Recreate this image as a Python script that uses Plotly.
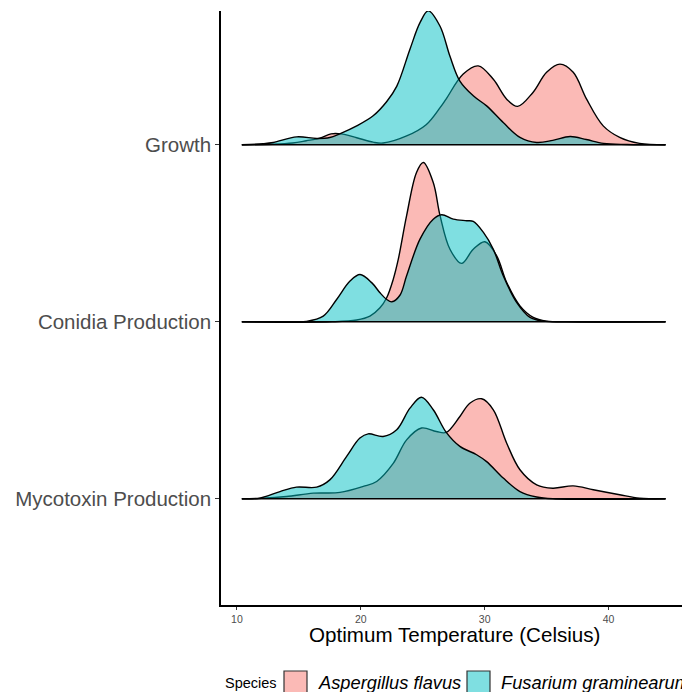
import plotly.graph_objects as go

# ---------------- data ----------------
categories = ["Mycotoxin Production", "Conidia Production", "Growth"]
category_levels = [1, 2, 3]
species = ["Aspergillus flavus", "Fusarium graminearum"]
x_ticks = [10, 20, 30, 40]

# Growth ridge
growth_af_t = [10.4, 12.9, 14.5, 15.6, 16.7, 17.6, 18.4, 19.67, 21.0, 21.8, 23.7, 25.3, 26.4, 26.9,
               28.27, 29.48, 30.7, 31.78, 32.66, 33.9, 35.0, 36.08, 37.15, 38.23, 39.57, 40.9, 42.5, 44.6]
growth_af_h = [0, 0.003, 0.01, 0.023, 0.038, 0.062, 0.062, 0.04, 0.015, 0.01, 0.05, 0.115, 0.21, 0.26,
               0.40, 0.446, 0.37, 0.258, 0.217, 0.296, 0.41, 0.456, 0.41, 0.258, 0.107, 0.042, 0.008, 0]
growth_fg_t = [10.4, 12.1, 12.94, 14.83, 16.44, 17.5, 18.3, 19.67, 21.0, 22.1, 22.9, 23.97, 24.78, 25.45,
               26.4, 27.2, 28.0, 29.08, 30.16, 31.5, 32.85, 34.2, 35.5, 36.9, 38.2, 39.6, 41.5, 44.6]
growth_fg_h = [0, 0.006, 0.013, 0.045, 0.036, 0.041, 0.062, 0.107, 0.164, 0.245, 0.33, 0.54, 0.69, 0.757,
               0.67, 0.50, 0.36, 0.277, 0.22, 0.126, 0.042, 0.013, 0.025, 0.047, 0.03, 0.008, 0.002, 0]

# Conidia production ridge
conidia_af_t = [10.4, 17.7, 19.67, 20.74, 21.55, 22.09, 22.62, 23.03, 23.7, 24.5, 25.05, 25.85, 26.4,
                27.2, 28.14, 29.08, 30.02, 30.97, 31.78, 32.85, 33.92, 35.0, 37.0, 44.6]
conidia_af_h = [0, 0, 0.01, 0.032, 0.079, 0.136, 0.24, 0.354, 0.60, 0.844, 0.90, 0.787, 0.60,
                0.41, 0.33, 0.41, 0.452, 0.373, 0.222, 0.09, 0.025, 0.004, 0, 0]
conidia_fg_t = [10.4, 14.5, 15.6, 16.97, 18.05, 19.13, 19.94, 20.9, 21.55, 22.1, 22.5, 23.16, 23.7,
                24.78, 25.85, 26.53, 27.47, 28.55, 29.08, 29.9, 30.7, 31.5, 32.58, 33.66, 34.73, 36.5, 44.6]
conidia_fg_h = [0, 0, 0.002, 0.032, 0.126, 0.23, 0.267, 0.22, 0.164, 0.126, 0.113, 0.15, 0.26,
                0.467, 0.58, 0.605, 0.58, 0.571, 0.567, 0.505, 0.41, 0.26, 0.11, 0.025, 0.004, 0, 0]

# Mycotoxin production ridge
myco_af_t = [10.4, 12.0, 14.0, 16.17, 18.32, 20.2, 21.28, 22.62, 23.7, 24.9, 26.1, 26.9, 28.0, 28.8,
             29.76, 30.7, 31.78, 32.85, 34.2, 35.5, 37.15, 38.77, 40.9, 42.5, 44.6]
myco_af_h = [0, 0.003, 0.013, 0.032, 0.036, 0.07, 0.098, 0.2, 0.333, 0.40, 0.38, 0.375, 0.465, 0.54,
             0.565, 0.503, 0.314, 0.164, 0.079, 0.06, 0.073, 0.051, 0.023, 0.004, 0]
myco_fg_t = [10.4, 11.86, 13.48, 14.8, 16.44, 17.5, 18.86, 19.93, 20.6, 21.8, 22.9, 23.97, 24.9,
             25.85, 26.9, 28.0, 29.35, 30.16, 31.5, 32.85, 34.2, 35.5, 44.6]
myco_fg_h = [0, 0.004, 0.041, 0.066, 0.066, 0.107, 0.24, 0.343, 0.367, 0.352, 0.39, 0.512, 0.574,
             0.503, 0.375, 0.296, 0.249, 0.21, 0.117, 0.041, 0.01, 0.0, 0]

x_min, x_max = 10.4, 44.6

# ---------------- styling ----------------
FONT = "Liberation Sans, Arial, sans-serif"
FILL_AF = "rgba(248,118,109,0.5)"
FILL_FG = "rgba(0,191,196,0.5)"
W, H = 682, 692
ML, MR, MT, MB = 221, 0, 11, 87
PW, PH = W - ML - MR, H - MT - MB


def px_x(px):
    return (px - ML) / PW


def px_y(py):
    return (H - MB - py) / PH


ridges = [
    (3, growth_af_t, growth_af_h, growth_fg_t, growth_fg_h),
    (2, conidia_af_t, conidia_af_h, conidia_fg_t, conidia_fg_h),
    (1, myco_af_t, myco_af_h, myco_fg_t, myco_fg_h),
]

fig = go.Figure()
for level, af_t, af_h, fg_t, fg_h in ridges:
    for t, h, fill in ((af_t, af_h, FILL_AF), (fg_t, fg_h, FILL_FG)):
        fig.add_trace(go.Scatter(
            x=t, y=[level + v for v in h], mode="lines",
            line=dict(color="black", width=1.4, shape="spline", smoothing=1.0),
            fill="toself", fillcolor=fill, showlegend=False, hoverinfo="skip"))
    fig.add_trace(go.Scatter(
        x=[x_min, x_max], y=[level, level], mode="lines",
        line=dict(color="black", width=1.4), showlegend=False, hoverinfo="skip"))

fig.update_layout(
    width=W, height=H,
    margin=dict(l=ML, r=MR, t=MT, b=MB, pad=0),
    paper_bgcolor="white", plot_bgcolor="white",
    font=dict(family=FONT),
    showlegend=False,
    xaxis=dict(range=[8.717, 45.93], tickvals=x_ticks, ticktext=[str(v) for v in x_ticks],
               showline=True, linecolor="black", linewidth=1.5, ticks="outside", ticklen=3.5,
               tickwidth=1, tickcolor="#333333", showgrid=False, zeroline=False,
               tickfont=dict(size=10.5, color="#4D4D4D", family=FONT)),
    yaxis=dict(range=[0.4, 3.756], tickvals=category_levels, ticktext=categories,
               showline=True, linecolor="black", linewidth=1.5, ticks="outside", ticklen=4,
               tickwidth=1, tickcolor="#333333", showgrid=False, zeroline=False,
               tickfont=dict(size=20.5, color="#4D4D4D", family=FONT)),
)

# x axis title (centered on the full ggplot panel)
fig.add_annotation(text="Optimum Temperature (Celsius)", xref="paper", yref="paper",
                   x=px_x(454.8), y=px_y(634), xanchor="center", yanchor="middle",
                   showarrow=False, font=dict(size=20.6, color="black", family=FONT))

# legend (bottom, horizontal)
fig.add_annotation(text="Species", xref="paper", yref="paper", x=px_x(222.5), y=px_y(682.5),
                   xanchor="left", yanchor="middle", showarrow=False,
                   font=dict(size=14.5, color="black", family=FONT))
legend_items = [(species[0], FILL_AF, 284, 316), (species[1], FILL_FG, 467, 499)]
for name, fill, box_left, text_left in legend_items:
    fig.add_shape(type="rect", xref="paper", yref="paper",
                  x0=px_x(box_left), x1=px_x(box_left + 23), y0=px_y(671), y1=px_y(694),
                  fillcolor=fill, line=dict(color="#333333", width=1.2))
    fig.add_annotation(text="<i>" + name + "</i>", xref="paper", yref="paper",
                       x=px_x(text_left), y=px_y(682), xanchor="left", yanchor="middle",
                       showarrow=False, font=dict(size=18.3, color="black", family=FONT))

fig.write_html("out.html", config={"displayModeBar": False},
               post_script="document.body.style.margin='0px';document.body.style.overflow='hidden';")
